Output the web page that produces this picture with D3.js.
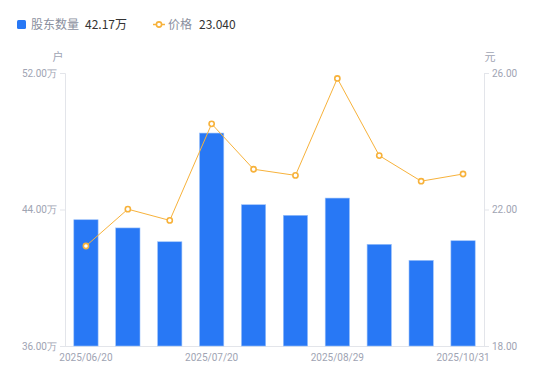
<!DOCTYPE html>
<html>
<head>
<meta charset="utf-8">
<script src="https://cdn.jsdelivr.net/npm/d3@7"></script>
<style>
  body { margin: 0; background: #fff; }
  svg { font-family: "Noto Sans CJK SC", "Noto Sans", sans-serif; }
</style>
</head>
<body>
<svg id="chart" width="550" height="381"></svg>
<script>
// data
var dates = ["2025/06/20", "2025/06/30", "2025/07/10", "2025/07/20", "2025/07/31",
             "2025/08/20", "2025/08/29", "2025/09/30", "2025/10/20", "2025/10/31"];
var holders = [43.40, 42.92, 42.11, 48.48, 44.28, 43.66, 44.67, 41.96, 41.02, 42.17]; // 万户
var prices = [20.93, 22.01, 21.68, 24.51, 23.18, 23.00, 25.84, 23.58, 22.83, 23.04];  // 元
var leftTicks = [36, 44, 52];
var rightTicks = [18, 22, 26];
var xLabelIdx = [0, 3, 6, 9];

var barColor = "#2878f5", lineColor = "#f7b23b", axisColor = "#e3e5ea", labelColor = "#a0a4b3";

var svg = d3.select("#chart");
var margin = { top: 73, right: 66, bottom: 35, left: 65 };
var width = 550, height = 381;

var x = d3.scaleBand()
    .domain(dates)
    .range([margin.left, width - margin.right])
    .paddingInner(0.42)
    .paddingOuter(0.21);

var yL = d3.scaleLinear().domain([36, 52]).range([height - margin.bottom, margin.top]);
var yR = d3.scaleLinear().domain([18, 26]).range([height - margin.bottom, margin.top]);

// left axis
var leftAxis = svg.append("g")
    .attr("transform", "translate(" + margin.left + ",0)")
    .call(d3.axisLeft(yL).tickValues(leftTicks).tickSize(5).tickPadding(3)
        .tickFormat(function (d) { return d3.format(".2f")(d) + "万"; }));

// right axis
var rightAxis = svg.append("g")
    .attr("transform", "translate(" + (width - margin.right) + ",0)")
    .call(d3.axisRight(yR).tickValues(rightTicks).tickSize(5).tickPadding(3)
        .tickFormat(d3.format(".2f")));

[leftAxis, rightAxis].forEach(function (g) {
    g.select(".domain").attr("stroke", axisColor);
    g.selectAll(".tick line").attr("stroke", axisColor);
    g.selectAll(".tick text").attr("fill", labelColor).style("font-size", "10px")
        .style("font-family", "Roboto, 'Noto Sans', sans-serif");
});

// bottom axis line
svg.append("line")
    .attr("x1", margin.left).attr("x2", width - margin.right)
    .attr("y1", yL(36) + 0.5).attr("y2", yL(36) + 0.5)
    .attr("stroke", axisColor);

// x labels
svg.selectAll(".xlab")
    .data(xLabelIdx)
    .enter().append("text")
    .attr("class", "xlab")
    .attr("x", function (i) { return x(dates[i]) + x.bandwidth() / 2; })
    .attr("y", height - margin.bottom + 15)
    .attr("text-anchor", "middle")
    .attr("fill", labelColor)
    .style("font-size", "10px")
    .style("font-family", "Roboto, 'Noto Sans', sans-serif")
    .text(function (i) { return dates[i]; });

// unit labels
svg.append("text").attr("x", 58).attr("y", 61).attr("text-anchor", "middle")
    .attr("fill", labelColor).style("font-size", "11px").text("户");
svg.append("text").attr("x", 490).attr("y", 61).attr("text-anchor", "middle")
    .attr("fill", labelColor).style("font-size", "11px").text("元");

// bars
svg.selectAll(".bar")
    .data(holders)
    .enter().append("rect")
    .attr("class", "bar")
    .attr("x", function (d, i) { return x(dates[i]); })
    .attr("y", function (d) { return yL(d); })
    .attr("width", x.bandwidth())
    .attr("height", function (d) { return yL(36) - yL(d); })
    .attr("fill", barColor)
    .attr("stroke", "#9cc2fa")
    .attr("stroke-width", 0.6);

// price line
var line = d3.line()
    .x(function (d, i) { return x(dates[i]) + x.bandwidth() / 2; })
    .y(function (d) { return yR(d); });

svg.append("path")
    .attr("d", line(prices))
    .attr("fill", "none")
    .attr("stroke", lineColor)
    .attr("stroke-width", 1);

svg.selectAll(".dot")
    .data(prices)
    .enter().append("circle")
    .attr("class", "dot")
    .attr("cx", function (d, i) { return x(dates[i]) + x.bandwidth() / 2; })
    .attr("cy", function (d) { return yR(d); })
    .attr("r", 2.6)
    .attr("fill", "#fff")
    .attr("stroke", lineColor)
    .attr("stroke-width", 1.6);

// legend
var legend = svg.append("g").style("font-size", "12px");
legend.append("rect").attr("x", 17).attr("y", 20).attr("width", 9).attr("height", 9)
    .attr("rx", 1.5).attr("fill", barColor);
legend.append("text").attr("x", 31).attr("y", 29).attr("fill", "#8a8f9e").text("股东数量");
legend.append("text").attr("x", 85).attr("y", 29).attr("fill", "#333")
    .text(holders[holders.length - 1].toFixed(2) + "万");

legend.append("line").attr("x1", 153).attr("x2", 165).attr("y1", 24.5).attr("y2", 24.5)
    .attr("stroke", lineColor).attr("stroke-width", 1.5);
legend.append("circle").attr("cx", 159).attr("cy", 24.5).attr("r", 2.6)
    .attr("fill", "#fff").attr("stroke", lineColor).attr("stroke-width", 1.6);
legend.append("text").attr("x", 168).attr("y", 29).attr("fill", "#8a8f9e").text("价格");
legend.append("text").attr("x", 199).attr("y", 29).attr("fill", "#333")
    .text(prices[prices.length - 1].toFixed(3));
</script>
</body>
</html>
